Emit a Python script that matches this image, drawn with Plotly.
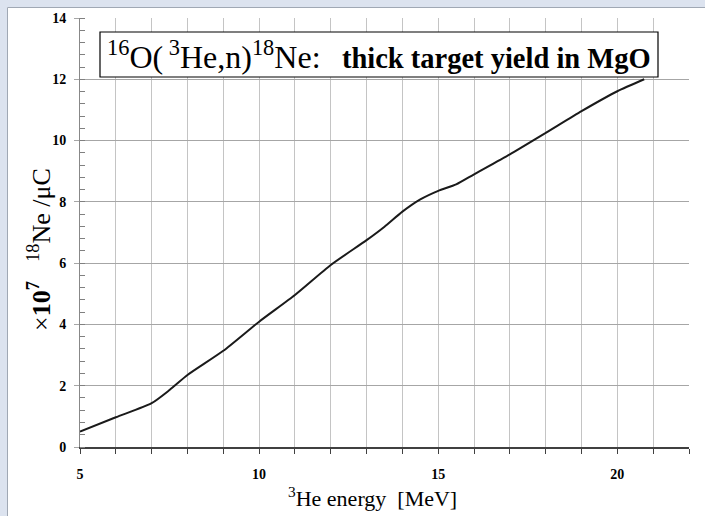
import plotly.graph_objects as go

# Data
energy = [5, 6, 7, 7.5, 8, 9, 10, 11, 12, 13, 13.5, 14, 14.5, 15, 15.5, 16, 17, 18, 19, 20, 20.75]
yield_vals = [0.50, 0.97, 1.43, 1.86, 2.35, 3.14, 4.09, 4.96, 5.94, 6.75, 7.19, 7.68, 8.08, 8.36, 8.57, 8.90, 9.55, 10.25, 10.96, 11.61, 12.0]

x_range = [5, 22]
y_range = [0, 14]

W, H = 705, 516
ML, MR, MT, MB = 80, 16, 18, 69
PW, PH = W - ML - MR, H - MT - MB

def px_x(p):
    return (p - ML) / PW

def px_y(p):
    return (H - MB - p) / PH

fig = go.Figure()
fig.add_trace(go.Scatter(
    x=energy, y=yield_vals, mode="lines",
    line=dict(color="#1a1a1a", width=2, shape="spline", smoothing=0.6),
    showlegend=False, hoverinfo="skip",
))

serif = "Liberation Serif"
band = "#dce3ef"

fig.update_layout(
    width=W, height=H,
    margin=dict(l=ML, r=MR, t=MT, b=MB, pad=0),
    paper_bgcolor="white",
    plot_bgcolor="white",
    xaxis=dict(
        range=x_range, tick0=5, dtick=5,
        showgrid=True, gridcolor="#c4c4c4", gridwidth=1,
        showline=True, linecolor="#404040", linewidth=1.5,
        ticks="outside", ticklen=5, tickcolor="#404040",
        tickfont=dict(family=serif, size=14, color="black", weight="bold"),
        ticklabelstandoff=8, zeroline=False,
        minor=dict(dtick=1, tick0=5, ticks="outside", ticklen=5, tickcolor="#404040",
                   showgrid=True, gridcolor="#c4c4c4", gridwidth=1),
    ),
    yaxis=dict(
        range=y_range, tick0=0, dtick=2,
        showgrid=True, gridcolor="#a6a6a6", gridwidth=1,
        showline=True, linecolor="#888888", linewidth=1,
        ticks="outside", ticklen=5, tickcolor="#a6a6a6",
        tickfont=dict(family=serif, size=14, color="black", weight="bold"),
        ticklabelstandoff=5,
        minor=dict(dtick=0.4, tick0=0, ticks="inside", ticklen=5, tickcolor="#808080", showgrid=False),
        zeroline=False,
    ),
    shapes=[
        # outer bluish frame (left and top bands) with a grey edge line
        dict(type="rect", xref="paper", yref="paper", layer="below",
             x0=px_x(0), x1=px_x(7), y0=px_y(H), y1=px_y(0),
             fillcolor=band, line=dict(width=0)),
        dict(type="rect", xref="paper", yref="paper", layer="below",
             x0=px_x(0), x1=px_x(W), y0=px_y(7), y1=px_y(0),
             fillcolor=band, line=dict(width=0)),
        dict(type="line", xref="paper", yref="paper", layer="below",
             x0=px_x(7.5), x1=px_x(7.5), y0=px_y(H), y1=px_y(7.5),
             line=dict(color="#a0a8b4", width=1)),
        dict(type="line", xref="paper", yref="paper", layer="below",
             x0=px_x(7.5), x1=px_x(W), y0=px_y(7.5), y1=px_y(7.5),
             line=dict(color="#a0a8b4", width=1)),
        # title box
        dict(type="rect", xref="paper", yref="paper", layer="above",
             x0=px_x(100), x1=px_x(658), y0=px_y(77), y1=px_y(32),
             fillcolor="white", line=dict(color="black", width=1.2)),
    ],
    annotations=[
        dict(xref="paper", yref="paper", x=px_x(379), y=px_y(55),
             xanchor="center", yanchor="middle", showarrow=False,
             text=("<span style='font-size:32px'><sup>16</sup>O(<sup> 3</sup>He,n)<sup>18</sup>Ne:</span>"
                   "   <b>thick target yield in MgO</b>"),
             font=dict(family=serif, size=28.5, color="black")),
        dict(xref="paper", yref="paper", x=px_x(372), y=px_y(497),
             xanchor="center", yanchor="middle", showarrow=False,
             text="<sup>3</sup>He energy  [MeV]",
             font=dict(family=serif, size=22, color="black")),
        dict(xref="paper", yref="paper", x=px_x(39), y=px_y(250),
             xanchor="center", yanchor="middle", showarrow=False, textangle=-90,
             text="×<b>10<sup>7</sup></b>   <sup>18</sup>Ne /μC",
             font=dict(family=serif, size=26, color="black")),
    ],
)

fig.write_html(
    "out.html",
    config={"displayModeBar": False},
    post_script="document.body.style.margin='0';document.body.style.overflow='hidden';",
)
